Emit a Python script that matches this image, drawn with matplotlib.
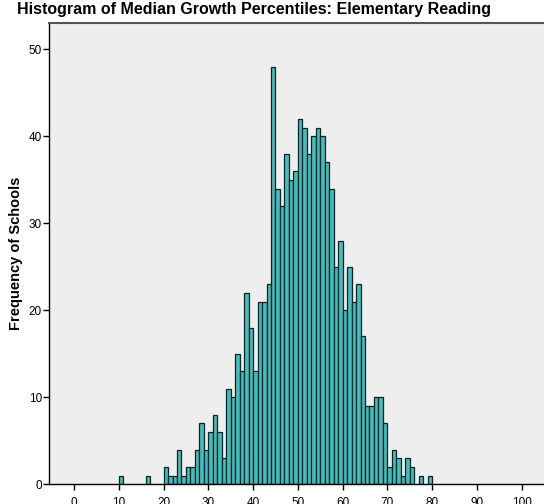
"""Histogram of school-level median growth percentiles (elementary reading)."""

import matplotlib
matplotlib.use("Agg")
import matplotlib.pyplot as plt

plt.rcParams['font.family'] = ['Liberation Sans', 'DejaVu Sans']

# Median growth percentile (left edge of each 1-point bin) and number of schools
percentiles = [10, 16, 20, 21, 22, 23, 24, 25, 26, 27, 28, 29,
               30, 31, 32, 33, 34, 35, 36, 37, 38, 39,
               40, 41, 42, 43, 44, 45, 46, 47, 48, 49,
               50, 51, 52, 53, 54, 55, 56, 57, 58, 59,
               60, 61, 62, 63, 64, 65, 66, 67, 68, 69,
               70, 71, 72, 73, 74, 75, 77, 79]
school_counts = [1, 1, 2, 1, 1, 4, 1, 2, 2, 4, 7, 4,
                 6, 8, 6, 3, 11, 10, 15, 13, 22, 18,
                 13, 21, 21, 23, 48, 34, 32, 38, 35, 36,
                 42, 41, 38, 40, 41, 40, 37, 34, 25, 28,
                 20, 25, 21, 23, 17, 9, 9, 10, 10, 7,
                 2, 4, 3, 1, 3, 2, 1, 1]

x_ticks = list(range(0, 101, 10))
y_ticks = list(range(0, 51, 10))

fig = plt.figure(figsize=(5.44, 5.04), dpi=100)
ax = fig.add_axes([0.090, 0.039, 0.915, 0.915])
ax.set_facecolor('#eeeeee')

ax.bar(percentiles, school_counts, width=1.0, align='edge',
       color='#3cbfbf', edgecolor='#1c1c1c', linewidth=0.9, zorder=2)

ax.set_xlim(-5.6, 105.6)
ax.set_ylim(0, 53)
ax.set_xticks(x_ticks)
ax.set_yticks(y_ticks)
ax.tick_params(direction='out', length=4, width=1, labelsize=8.5,
               colors='black')
ax.tick_params(axis='x', pad=5)
ax.tick_params(axis='y', pad=1)

for side in ('left', 'bottom'):
    ax.spines[side].set_color('black')
    ax.spines[side].set_linewidth(1)
ax.spines['top'].set_color('#555555')
ax.spines['top'].set_linewidth(1.5)
ax.spines['right'].set_visible(False)

ax.set_ylabel('Frequency of Schools', fontsize=10.5, fontweight='bold', labelpad=4.5)
fig.text(0.031, 0.966, 'Histogram of Median Growth Percentiles: Elementary Reading',
         fontsize=11.5, fontweight='bold', ha='left', va='bottom')

fig.savefig('out.png', dpi=100, facecolor='white')
